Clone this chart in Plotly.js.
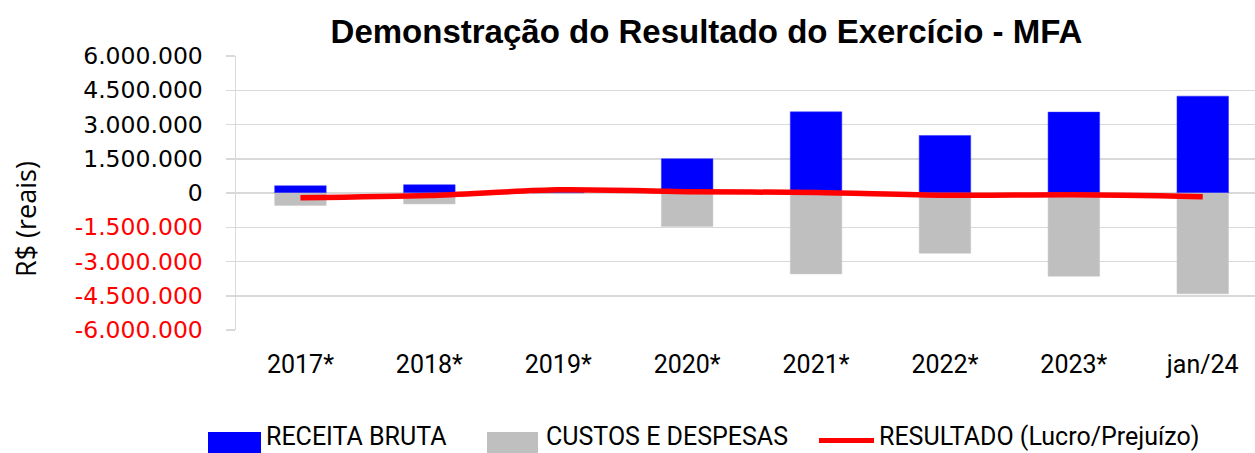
<!DOCTYPE html>
<html>
<head>
<meta charset="utf-8">
<script src="https://cdn.plot.ly/plotly-3.0.1.min.js"></script>
<style>html,body{margin:0;padding:0;background:#fff;}#chart{width:1255px;height:453px;}</style>
</head>
<body>
<div id="chart"></div>
<script>
// ---- data ----
const categories = ['2017*', '2018*', '2019*', '2020*', '2021*', '2022*', '2023*', 'jan/24'];
const receitaBruta = [319000, 363000, 150000, 1502000, 3555000, 2519000, 3542000, 4242000];
const custosDespesas = [-542000, -481000, -10000, -1463000, -3542000, -2641000, -3647000, -4417000];
const resultado = [-206000, -110000, 140000, 60000, 20000, -100000, -80000, -160000];
const seriesNames = ['RECEITA BRUTA', 'CUSTOS E DESPESAS', 'RESULTADO (Lucro/Prejuízo)'];
const yTickVals = [6000000, 4500000, 3000000, 1500000, 0, -1500000, -3000000, -4500000, -6000000];
const yTickText = ['6.000.000', '4.500.000', '3.000.000', '1.500.000', '0', '-1.500.000', '-3.000.000', '-4.500.000', '-6.000.000'];
const chartTitle = 'Demonstração do Resultado do Exercício - MFA';
const yTitle = 'R$ (reais)';

// ---- layout geometry ----
const W = 1255, H = 453;
const ML = 236, MR = 0, MT = 56, MB = 123;
const PW = W - ML - MR, PH = H - MT - MB;
const px = v => (v - ML) / PW;          // pixel x -> paper
const py = v => (H - MB - v) / PH;      // pixel y -> paper
const xRange = [-0.5, -0.5 + PW / 128.9];

const colors = ['#0000FF', '#BFBFBF', '#FF0000'];
const grid = '#D9D9D9';

const traces = [
  {type: 'bar', x: categories, y: receitaBruta, name: seriesNames[0], width: 0.4,
   marker: {color: colors[0], line: {color: '#3333FF', width: 0.5}}},
  {type: 'bar', x: categories, y: custosDespesas, name: seriesNames[1], width: 0.4,
   marker: {color: colors[1], line: {color: '#C8C8C8', width: 0.5}}},
  {type: 'scatter', mode: 'lines', x: categories, y: resultado, name: seriesNames[2],
   line: {color: colors[2], width: 5.5, shape: 'spline', smoothing: 0.8}}
];

const tickText = yTickText.map((t, i) => yTickVals[i] < 0 ? '<span style="fill:#FF0000">' + t + '</span>' : t);

// custom legend (wide swatches like the original)
const legendItems = [
  {sx0: 208, sx1: 261, tx: 265, kind: 'rect'},
  {sx0: 487, sx1: 538, tx: 545, kind: 'rect'},
  {sx0: 819, sx1: 874, tx: 878, kind: 'line'}
];
const shapes = [];
const annotations = [];
legendItems.forEach((it, i) => {
  if (it.kind === 'rect') {
    shapes.push({type: 'rect', xref: 'paper', yref: 'paper', x0: px(it.sx0), x1: px(it.sx1),
      y0: py(453), y1: py(432), fillcolor: colors[i], line: {width: 0}});
  } else {
    shapes.push({type: 'line', xref: 'paper', yref: 'paper', x0: px(it.sx0), x1: px(it.sx1),
      y0: py(440.5), y1: py(440.5), line: {color: colors[i], width: 5}});
  }
  annotations.push({xref: 'paper', yref: 'paper', x: px(it.tx), y: py(436.5), xanchor: 'left', yanchor: 'middle',
    text: seriesNames[i], showarrow: false, borderpad: 0,
    font: {family: 'Roboto, sans-serif', size: 25, color: '#000'}});
});
annotations.push({xref: 'paper', yref: 'paper', x: px(25), y: py(219), xanchor: 'center', yanchor: 'middle',
  text: yTitle, textangle: -90, showarrow: false,
  font: {family: '"Open Sans", sans-serif', size: 27, color: '#000'}});

const layout = {
  width: W, height: H,
  margin: {l: ML, r: MR, t: MT, b: MB, pad: 0},
  paper_bgcolor: '#FFFFFF', plot_bgcolor: '#FFFFFF',
  showlegend: false,
  barmode: 'relative',
  title: {text: '<b>' + chartTitle + '</b>', xref: 'container', yref: 'container',
    x: 706.5 / W, xanchor: 'center', y: 1 - 31 / H, yanchor: 'middle',
    font: {family: '"Liberation Sans", sans-serif', size: 33, color: '#000'}},
  xaxis: {type: 'category', range: xRange, showgrid: false, zeroline: false, showline: false,
    ticks: '', ticklabelstandoff: 17,
    tickfont: {family: 'Roboto, sans-serif', size: 25, color: '#000'}},
  xaxis2: {type: 'linear', overlaying: 'x', anchor: 'free', position: 0.5, range: xRange,
    tickmode: 'linear', tick0: 0.5, dtick: 1, ticks: 'outside', ticklen: 6, tickwidth: 1.5, tickcolor: grid,
    showticklabels: false, showgrid: false, zeroline: false, showline: false},
  yaxis: {range: [-6000000, 6000000], tickmode: 'array', tickvals: yTickVals, ticktext: tickText,
    showgrid: true, gridcolor: grid, gridwidth: 1.5,
    zeroline: true, zerolinecolor: grid, zerolinewidth: 1.5,
    showline: true, linecolor: grid, linewidth: 1.5,
    ticks: 'outside', ticklen: 9, tickwidth: 1.5, tickcolor: grid, ticklabelstandoff: 18,
    tickfont: {family: '"DejaVu Sans", sans-serif', size: 23.5, color: '#000'}},
  shapes: shapes,
  annotations: annotations
};

Plotly.newPlot('chart', traces, layout, {staticPlot: true, displayModeBar: false});
</script>
</body>
</html>
